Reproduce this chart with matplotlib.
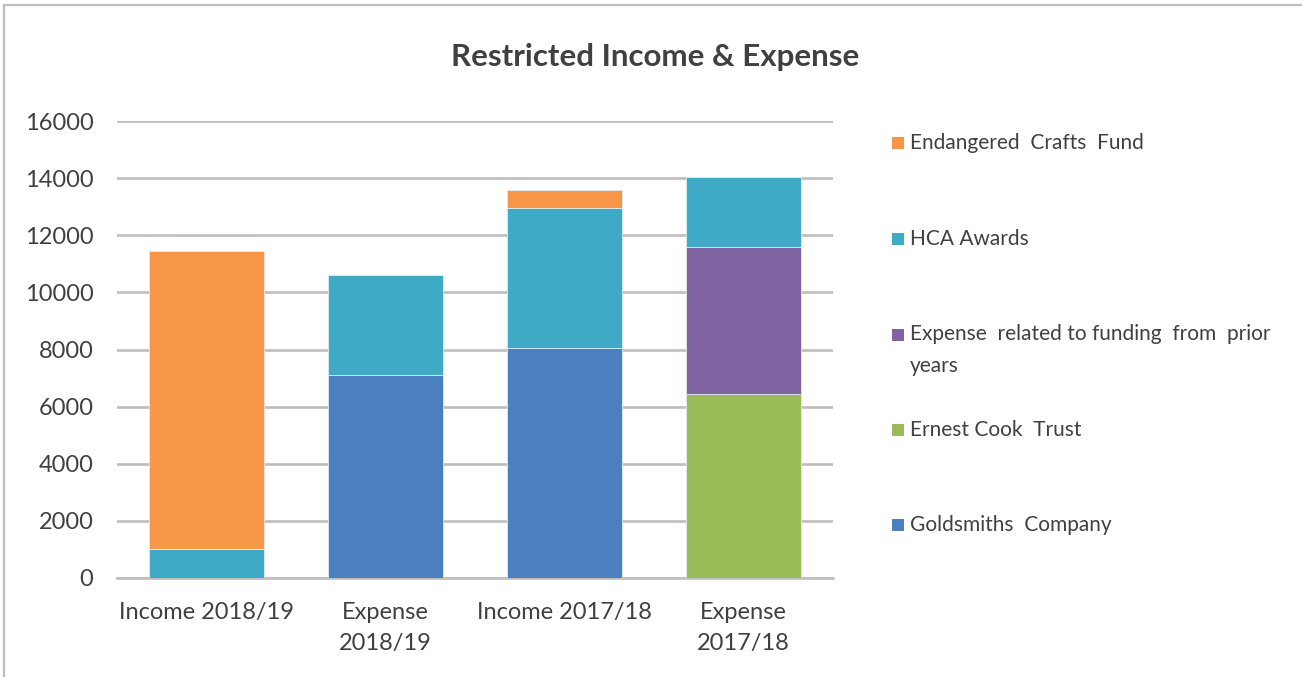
import matplotlib
matplotlib.use("Agg")
import matplotlib.pyplot as plt
from matplotlib.patches import Rectangle
from matplotlib.lines import Line2D
import numpy as np

categories = ["Income 2018/19", "Expense\n2018/19", "Income 2017/18", "Expense\n2017/18"]
goldsmiths = [0, 7100, 8040, 0]
ernest_cook = [0, 0, 0, 6440]
prior_years = [0, 0, 0, 5145]
hca_awards = [1000, 3500, 4910, 2440]
endangered = [10465, 0, 650, 0]
y_ticks = [0, 2000, 4000, 6000, 8000, 10000, 12000, 14000, 16000]

series = [
    ("Goldsmiths  Company", goldsmiths, "#4A80C0"),
    ("Ernest Cook  Trust", ernest_cook, "#9BBB59"),
    ("Expense  related to funding  from  prior\nyears", prior_years, "#8064A2"),
    ("HCA Awards", hca_awards, "#3FAAC6"),
    ("Endangered  Crafts  Fund", endangered, "#F79646"),
]

plt.rcParams['font.family'] = ['Lato', 'DejaVu Sans']
W, H = 1302, 677
fig = plt.figure(figsize=(W / 100, H / 100), dpi=100)
ax = fig.add_axes([117 / W, 1 - 578 / H, (833 - 117) / W, (578 - 121) / H])

x = np.arange(len(categories))
bottom = np.zeros(len(categories))
for label, vals, color in series:
    vals = np.array(vals, dtype=float)
    ax.bar(x, vals, width=0.64, bottom=bottom, color=color,
           edgecolor="#DDEBF5", linewidth=0.6, zorder=3)
    bottom += vals

ax.set_xlim(-0.5, len(categories) - 0.5)
ax.set_ylim(0, 16000)
ax.set_yticks(y_ticks)
ax.set_yticklabels([str(t) for t in y_ticks])
ax.set_xticks(x)
ax.set_xticklabels(categories, linespacing=1.6)
ax.yaxis.grid(True, color="#BEBEBE", linewidth=1.9, zorder=0)
ax.set_axisbelow(True)
for s in ["top", "right", "left"]:
    ax.spines[s].set_visible(False)
ax.spines["bottom"].set_color("#BEBEBE")
ax.spines["bottom"].set_linewidth(1.9)
ax.tick_params(axis="both", length=0, labelsize=17, colors="#404040")
ax.tick_params(axis="y", pad=17)
ax.tick_params(axis="x", pad=17)

fig.text(655 / W, 1 - 57 / H, "Restricted Income & Expense", ha="center", va="center",
         fontsize=22.5, fontweight="bold", color="#404040")

# legend (top to bottom: reverse stacking order)
leg_y = [143, 239, 335, 430, 525]
for (label, vals, color), yy in zip(series[::-1], leg_y):
    fig.patches.append(Rectangle((892 / W, 1 - (yy + 6) / H), 12 / W, 12 / H,
                                 transform=fig.transFigure, facecolor=color,
                                 edgecolor="none"))
    if "\n" in label:
        fig.text(910 / W, 1 - (yy - 11) / H, label, ha="left", va="top",
                 fontsize=15, color="#404040", linespacing=1.75)
    else:
        fig.text(910 / W, 1 - yy / H, label, ha="left", va="center",
                 fontsize=15, color="#404040")

# chart border (top and left)
fig.add_artist(Line2D([4 / W, 1], [1 - 5 / H, 1 - 5 / H], transform=fig.transFigure,
                      color="#BFBFBF", linewidth=1.6))
fig.add_artist(Line2D([4 / W, 4 / W], [0, 1 - 5 / H], transform=fig.transFigure,
                      color="#BFBFBF", linewidth=1.6))

fig.savefig("out.png", dpi=100, facecolor="white")
